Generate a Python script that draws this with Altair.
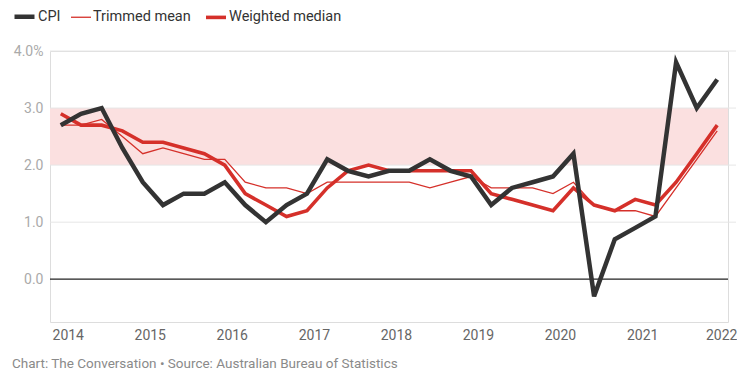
import altair as alt
import pandas as pd

quarters = [
    "2013-12-01",
    "2014-03-01", "2014-06-01", "2014-09-01", "2014-12-01",
    "2015-03-01", "2015-06-01", "2015-09-01", "2015-12-01",
    "2016-03-01", "2016-06-01", "2016-09-01", "2016-12-01",
    "2017-03-01", "2017-06-01", "2017-09-01", "2017-12-01",
    "2018-03-01", "2018-06-01", "2018-09-01", "2018-12-01",
    "2019-03-01", "2019-06-01", "2019-09-01", "2019-12-01",
    "2020-03-01", "2020-06-01", "2020-09-01", "2020-12-01",
    "2021-03-01", "2021-06-01", "2021-09-01", "2021-12-01",
]

cpi = [2.7,
       2.9, 3.0, 2.3, 1.7,
       1.3, 1.5, 1.5, 1.7,
       1.3, 1.0, 1.3, 1.5,
       2.1, 1.9, 1.8, 1.9,
       1.9, 2.1, 1.9, 1.8,
       1.3, 1.6, 1.7, 1.8,
       2.2, -0.3, 0.7, 0.9,
       1.1, 3.8, 3.0, 3.5]

trimmed_mean = [2.7,
                2.7, 2.8, 2.5, 2.2,
                2.3, 2.2, 2.1, 2.1,
                1.7, 1.6, 1.6, 1.5,
                1.7, 1.7, 1.7, 1.7,
                1.7, 1.6, 1.7, 1.8,
                1.6, 1.6, 1.6, 1.5,
                1.7, 1.3, 1.2, 1.2,
                1.1, 1.6, 2.1, 2.6]

weighted_median = [2.9,
                   2.7, 2.7, 2.6, 2.4,
                   2.4, 2.3, 2.2, 2.0,
                   1.5, 1.3, 1.1, 1.2,
                   1.6, 1.9, 2.0, 1.9,
                   1.9, 1.9, 1.9, 1.9,
                   1.5, 1.4, 1.3, 1.2,
                   1.6, 1.3, 1.2, 1.4,
                   1.3, 1.7, 2.2, 2.7]

series_names = ["CPI", "Trimmed mean", "Weighted median"]
series_colors = ["#333333", "#d5302a", "#d5302a"]
series_widths = [4.5, 1.3, 3.6]

target_band = [2.0, 3.0]
grid_values = [1, 2, 3, 4]
year_ticks = list(range(2014, 2023))
footer = "Chart: The Conversation \u2022 Source: Australian Bureau of Statistics"

rows = []
for name, vals in zip(series_names, [cpi, trimmed_mean, weighted_median]):
    for d, v in zip(quarters, vals):
        rows.append({"date": d, "value": v, "series": name})
df = pd.DataFrame(rows)

W, H = 678, 271
FONT = "Roboto"

x_scale = alt.Scale(type="utc", domain=[alt.DateTime(year=2013, month=10, date=14, utc=True),
                                        alt.DateTime(year=2022, month=1, date=18, utc=True)])
y_scale = alt.Scale(domain=[-0.75, 4.0], nice=False, zero=False)

color_scale = alt.Scale(domain=series_names, range=series_colors)
width_scale = alt.Scale(type="ordinal", domain=series_names, range=series_widths)

legend_common = dict(
    title=None, orient="none", direction="horizontal", legendX=-38, legendY=-47,
    symbolType="stroke", symbolSize=400, labelFont=FONT, labelFontSize=14.5,
    labelColor="#333333", columnPadding=7, labelOffset=1,
)

band = alt.Chart(pd.DataFrame({"lo": [target_band[0]], "hi": [target_band[1]]})).mark_rect(
    color="#fbe0e0"
).encode(
    x=alt.value(0), x2=alt.value(W),
    y=alt.Y("lo:Q", scale=y_scale, axis=alt.Axis(
        values=[0, 1, 2, 3, 4], grid=False, domain=False, ticks=False, title=None,
        labelExpr="datum.value == 4 ? '4.0%' : format(datum.value, '.1f')",
        labelColor="#aaaaaa", labelFont=FONT, labelFontSize=14, labelPadding=7)),
    y2="hi:Q",
)

grid = alt.Chart(pd.DataFrame({"g": grid_values})).mark_rule(color="#e6e6e6", strokeWidth=1).encode(
    x=alt.value(0), x2=alt.value(W + 8),
    y=alt.Y("g:Q", scale=y_scale),
)

zero = alt.Chart(pd.DataFrame({"z": [0]})).mark_rule(color="#222222", strokeWidth=1.2).encode(
    x=alt.value(0), x2=alt.value(W),
    y=alt.Y("z:Q", scale=y_scale),
)

def line_layer(name):
    return alt.Chart(df).transform_filter(alt.datum.series == name).mark_line().encode(
        x=alt.X("date:T", scale=x_scale, axis=alt.Axis(
            values=[alt.DateTime(year=y, month=1, date=1, utc=True) for y in year_ticks],
            format="%Y", grid=False, domain=False, ticks=False, title=None,
            labelColor="#666666", labelFont=FONT, labelFontSize=14, labelPadding=6,
            labelOffset={"expr": "utcyear(datum.value) >= 2022 ? -3 : 0"},
            labelFlush=False, labelOverlap=False)),
        y=alt.Y("value:Q", scale=y_scale),
        color=alt.Color("series:N", scale=color_scale, legend=alt.Legend(**legend_common)),
        strokeWidth=alt.StrokeWidth("series:N", scale=width_scale, legend=alt.Legend(**legend_common)),
    )

chart = alt.layer(
    band, grid, zero,
    line_layer("Trimmed mean"), line_layer("Weighted median"), line_layer("CPI"),
).properties(
    width=W, height=H,
    padding={"left": 42, "top": 43, "right": 9, "bottom": 48},
    autosize=alt.AutoSizeParams(type="none"),
    title=alt.TitleParams(footer, orient="bottom", anchor="start", dx=0, offset=15,
                          font=FONT, fontSize=13.5, fontWeight="normal", color="#8a8a8a"),
).configure_view(stroke=None).configure(background="white")

chart.save("out.html", embed_options={"renderer": "svg", "actions": False})
